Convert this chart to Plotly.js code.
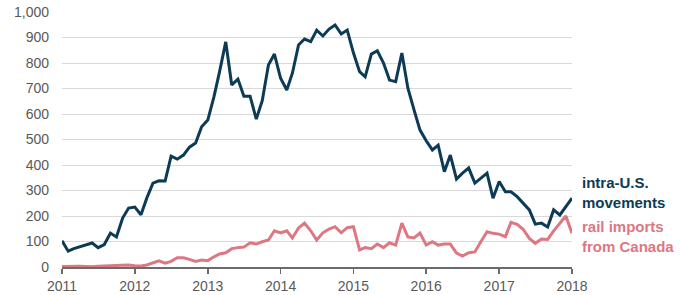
<!DOCTYPE html>
<html>
<head>
<meta charset="utf-8">
<script src="https://cdn.plot.ly/plotly-3.0.1.min.js"></script>
<style>html,body{margin:0;padding:0;background:#fff;}#chart{width:680px;height:295px;}</style>
</head>
<body>
<div id="chart"></div>
<script>
const months = [
'2011-01','2011-02','2011-03','2011-04','2011-05','2011-06','2011-07','2011-08','2011-09','2011-10','2011-11','2011-12',
'2012-01','2012-02','2012-03','2012-04','2012-05','2012-06','2012-07','2012-08','2012-09','2012-10','2012-11','2012-12',
'2013-01','2013-02','2013-03','2013-04','2013-05','2013-06','2013-07','2013-08','2013-09','2013-10','2013-11','2013-12',
'2014-01','2014-02','2014-03','2014-04','2014-05','2014-06','2014-07','2014-08','2014-09','2014-10','2014-11','2014-12',
'2015-01','2015-02','2015-03','2015-04','2015-05','2015-06','2015-07','2015-08','2015-09','2015-10','2015-11','2015-12',
'2016-01','2016-02','2016-03','2016-04','2016-05','2016-06','2016-07','2016-08','2016-09','2016-10','2016-11','2016-12',
'2017-01','2017-02','2017-03','2017-04','2017-05','2017-06','2017-07','2017-08','2017-09','2017-10','2017-11','2017-12',
'2018-01'];

const intraUS = [
103,62,72,80,86,94,76,88,133,118,192,231,
235,205,270,329,338,337,435,423,439,470,486,550,
576,668,766,883,714,737,670,670,580,652,792,835,
740,694,760,871,894,884,929,906,933,949,914,929,
840,766,746,835,848,800,733,727,839,702,616,537,
495,459,478,374,439,345,368,388,329,349,368,270,
335,295,295,276,251,224,168,172,157,224,204,236,
270];

const railCanada = [
2,3,3,3,2,1,3,4,5,4,6,8,
5,4,8,15,24,15,22,36,36,30,22,27,
25,40,51,56,72,76,78,95,90,99,106,142,
134,142,114,153,172,142,106,134,149,158,134,154,
158,67,76,72,90,76,95,86,172,118,114,133,
86,99,86,90,90,55,43,56,59,99,138,132,
129,119,175,167,148,112,93,110,108,142,171,200,
132];

const yTicks = [0,100,200,300,400,500,600,700,800,900,1000];
const yTickText = ['0','100','200','300','400','500','600','700','800','900','1,000'];
const xTicks = ['2011-01-01','2012-01-01','2013-01-01','2014-01-01','2015-01-01','2016-01-01','2017-01-01','2018-01-01'];
const xTickText = ['2011','2012','2013','2014','2015','2016','2017','2018'];

const blue = '#0d3b55';
const pink = '#dd7782';

const traces = [
  {x: months, y: railCanada, type: 'scatter', mode: 'lines', line: {color: pink, width: 3}, hoverinfo: 'skip'},
  {x: months, y: intraUS, type: 'scatter', mode: 'lines', line: {color: blue, width: 3}, hoverinfo: 'skip'}
];

const layout = {
  width: 680, height: 295,
  margin: {l: 62, r: 108, t: 12, b: 28, pad: 0},
  paper_bgcolor: '#fff', plot_bgcolor: '#fff',
  showlegend: false,
  font: {family: 'Liberation Sans, Arial, sans-serif', size: 14, color: '#595959'},
  xaxis: {
    type: 'date', range: ['2011-01-01', '2018-01-01'],
    tickvals: xTicks, ticktext: xTickText,
    showgrid: false, zeroline: false,
    showline: true, linecolor: '#6b6b6b', linewidth: 2,
    ticks: 'outside', ticklen: 5, tickwidth: 1.5, tickcolor: '#6b6b6b',
    tickfont: {size: 14, color: '#595959'}
  },
  yaxis: {
    range: [0, 1000],
    tickvals: yTicks, ticktext: yTickText,
    showgrid: true, gridcolor: '#d9d9d9', gridwidth: 1,
    zeroline: false, showline: false, ticks: '',
    ticklabelstandoff: 12,
    tickfont: {size: 14, color: '#595959'}
  },
  annotations: [
    {xref: 'paper', yref: 'y', x: 1.016, y: 294, xanchor: 'left', yanchor: 'middle', align: 'left',
     text: '<b>intra-U.S.<br>movements</b>', showarrow: false, font: {size: 15, color: blue}},
    {xref: 'paper', yref: 'y', x: 1.016, y: 119, xanchor: 'left', yanchor: 'middle', align: 'left',
     text: '<b>rail imports<br>from Canada</b>', showarrow: false, font: {size: 15, color: pink}}
  ]
};

Plotly.newPlot('chart', traces, layout, {staticPlot: true, displayModeBar: false});
</script>
</body>
</html>
